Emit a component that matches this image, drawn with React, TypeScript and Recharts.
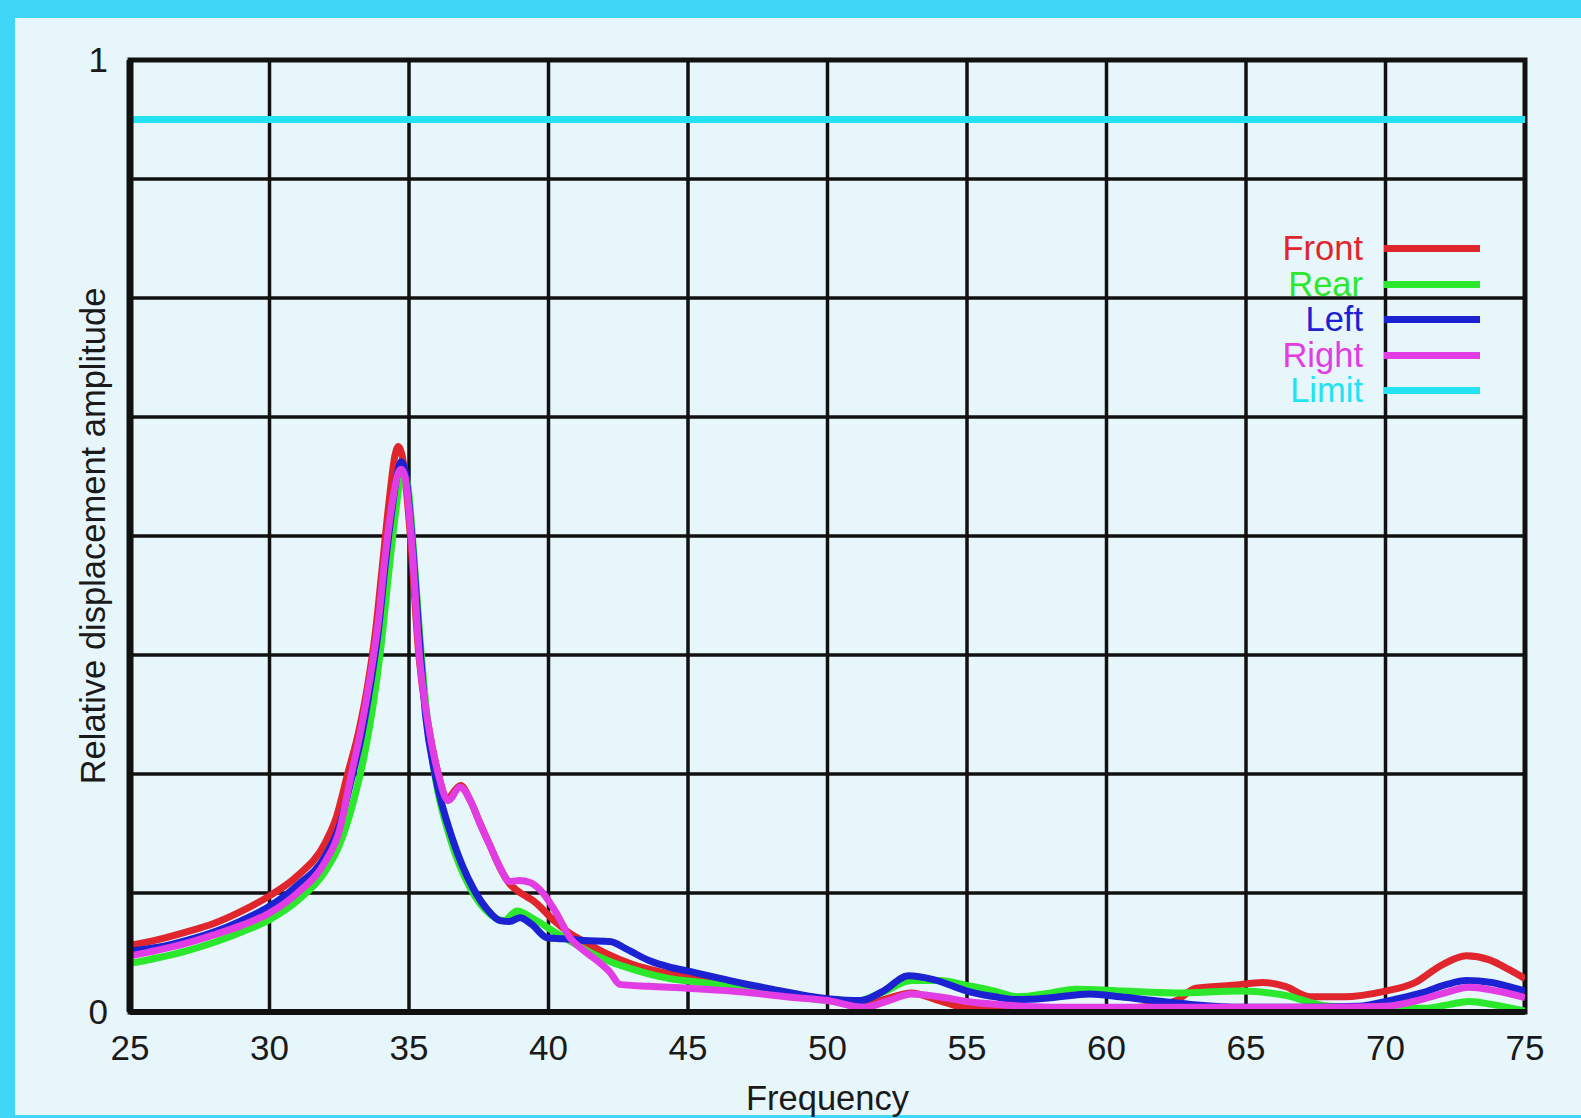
import React from 'react';
import { LineChart, Line, XAxis, YAxis, CartesianGrid, Legend, ReferenceArea } from 'recharts';

// axis ticks
const xTicks = [25, 30, 35, 40, 45, 50, 55, 60, 65, 70, 75];
const yTicks = [0, 0.125, 0.25, 0.375, 0.5, 0.625, 0.75, 0.875, 1];

// Front (red)
const frontFreq = [25, 26, 27, 28, 29, 30, 31, 32, 32.4, 32.8, 33.2, 33.5, 33.8, 34.05, 34.3, 34.5, 34.62, 34.75, 35.05, 35.35, 35.7, 36.05, 36.35, 36.85, 37.2, 37.55, 37.9, 38.25, 38.6, 39.0, 39.45, 40.2, 40.8, 41.4, 42.1, 43.0, 44.35, 45.5, 47, 48.5, 50, 51, 52, 53, 54, 55, 56.5, 58, 60, 61.5, 62.5, 63.2, 64.5, 65.6, 66.4, 67.3, 68.5, 70, 71, 72, 72.9, 73.7, 74.4, 75];
const frontAmp = [0.07, 0.076, 0.084, 0.093, 0.106, 0.122, 0.143, 0.178, 0.205, 0.25, 0.295, 0.34, 0.4, 0.47, 0.54, 0.585, 0.594, 0.585, 0.5, 0.375, 0.3, 0.25, 0.224, 0.238, 0.222, 0.198, 0.175, 0.152, 0.135, 0.125, 0.117, 0.096, 0.082, 0.072, 0.061, 0.05, 0.04, 0.034, 0.027, 0.02, 0.013, 0.008, 0.013, 0.02, 0.012, 0.004, 0.002, 0.002, 0.003, 0.006, 0.012, 0.025, 0.028, 0.031, 0.027, 0.016, 0.016, 0.022, 0.03, 0.049, 0.059, 0.055, 0.045, 0.035];

// Rear (green)
const rearFreq = [25, 26, 27, 28, 29, 30, 31, 32, 32.5, 33, 33.4, 33.7, 34.0, 34.25, 34.5, 34.7, 34.82, 34.95, 35.15, 35.4, 35.65, 35.95, 36.5, 37.2, 37.9, 38.4, 38.87, 39.4, 40.16, 40.8, 41.4, 42.2, 43.0, 44.35, 45.5, 47, 48.5, 50, 51, 52, 53, 54, 55, 56, 56.8, 58, 58.9, 60.6, 62.5, 64.8, 66.5, 67.3, 68, 70, 71.5, 72.3, 73, 73.8, 74.5, 75];
const rearAmp = [0.051, 0.057, 0.064, 0.073, 0.084, 0.097, 0.117, 0.148, 0.175, 0.22, 0.27, 0.32, 0.385, 0.455, 0.52, 0.56, 0.565, 0.555, 0.49, 0.39, 0.31, 0.245, 0.18, 0.13, 0.103, 0.096, 0.106, 0.099, 0.085, 0.074, 0.064, 0.053, 0.045, 0.035, 0.031, 0.025, 0.018, 0.012, 0.011, 0.021, 0.033, 0.033, 0.028, 0.022, 0.016, 0.02, 0.024, 0.022, 0.02, 0.022, 0.017, 0.01, 0.006, 0.004, 0.004, 0.008, 0.011, 0.008, 0.004, 0.001];

// Left (blue)
const leftFreq = [25, 26, 27, 28, 29, 30, 31, 32, 32.5, 32.9, 33.3, 33.6, 33.9, 34.15, 34.4, 34.6, 34.72, 34.85, 35.1, 35.35, 35.6, 35.93, 36.58, 37.3, 37.8, 38.26, 38.6, 38.98, 39.4, 39.95, 40.5, 41.3, 42.2, 42.8, 43.6, 44.35, 45, 46.5, 48, 50, 51.2, 52, 52.9, 53.8, 55, 56, 56.8, 58, 59.4, 60.5, 61.7, 63, 65, 67, 69, 70.3, 71.3, 72.2, 72.9, 73.8, 74.5, 75];
const leftAmp = [0.064, 0.068, 0.075, 0.084, 0.096, 0.111, 0.133, 0.164, 0.195, 0.24, 0.29, 0.34, 0.4, 0.47, 0.53, 0.568, 0.578, 0.57, 0.5, 0.4, 0.31, 0.25, 0.18, 0.13, 0.108, 0.096, 0.095, 0.099, 0.092, 0.078, 0.077, 0.075, 0.074, 0.066, 0.054, 0.047, 0.043, 0.033, 0.024, 0.014, 0.012, 0.022, 0.038, 0.034, 0.022, 0.016, 0.013, 0.015, 0.019, 0.016, 0.012, 0.008, 0.005, 0.005, 0.006, 0.013, 0.02, 0.029, 0.033, 0.031, 0.026, 0.022];

// Right (magenta)
const rightFreq = [25, 26, 27, 28, 29, 30, 31, 32, 32.5, 32.9, 33.3, 33.6, 33.9, 34.15, 34.4, 34.6, 34.72, 34.85, 35.08, 35.37, 35.7, 36.05, 36.4, 36.83, 37.2, 37.54, 37.9, 38.26, 38.6, 38.95, 39.34, 39.8, 40.3, 40.77, 41.2, 41.74, 42.2, 42.56, 43.6, 45, 47, 48.5, 50, 51.3, 52.2, 53, 54, 55, 56.5, 58, 60, 63, 66, 68, 70, 71, 72, 73, 74, 75];
const rightAmp = [0.059, 0.065, 0.072, 0.081, 0.091, 0.104, 0.125, 0.158, 0.19, 0.245, 0.3, 0.35, 0.41, 0.48, 0.535, 0.565, 0.57, 0.563, 0.5, 0.375, 0.3, 0.25, 0.222, 0.236, 0.222, 0.198, 0.175, 0.152, 0.137, 0.138, 0.136, 0.125, 0.103, 0.078, 0.066, 0.054, 0.042, 0.029, 0.027, 0.025, 0.021, 0.016, 0.012, 0.005, 0.012, 0.019, 0.016, 0.011, 0.007, 0.005, 0.005, 0.005, 0.005, 0.005, 0.006, 0.011, 0.019, 0.026, 0.022, 0.015];

// Limit (cyan)
const limitFreq = [25, 75];
const limitAmp = [0.9375, 0.9375];

const toPoints = (f: number[], a: number[]) => f.map((freq, i) => ({ freq, amp: a[i] }));

const series = [
  { name: 'Front', color: '#e0262c', data: toPoints(frontFreq, frontAmp) },
  { name: 'Rear', color: '#2ce82c', data: toPoints(rearFreq, rearAmp) },
  { name: 'Left', color: '#1c22d2', data: toPoints(leftFreq, leftAmp) },
  { name: 'Right', color: '#e23ce4', data: toPoints(rightFreq, rightAmp) },
  { name: 'Limit', color: '#24e2f2', data: toPoints(limitFreq, limitAmp) },
];

const FONT = '"Liberation Sans", Arial, Helvetica, sans-serif';

const LegendBox = (props: any) => {
  const order = series.map((s) => s.name);
  const items = [...(props.payload || [])].sort((a: any, b: any) => order.indexOf(a.value) - order.indexOf(b.value));
  return (
    <div style={{ fontFamily: FONT, fontSize: 34.5 }}>
      {items.map((p: any) => (
        <div key={p.value} style={{ display: 'flex', alignItems: 'center', justifyContent: 'flex-end', height: 35.5 }}>
          <span style={{ color: p.color }}>{p.value}</span>
          <span style={{ display: 'inline-block', width: 96, height: 7, background: p.color, marginLeft: 21 }} />
        </div>
      ))}
    </div>
  );
};

const YTitle = (props: any) => {
  const cy = props.viewBox.y + props.viewBox.height / 2;
  const cx = 93;
  return (
    <text x={cx} y={cy} transform={`rotate(-90 ${cx} ${cy})`} textAnchor="middle" dominantBaseline="central"
      fill="#1a1a1a" fontSize={34.5} fontFamily={FONT}>
      Relative displacement amplitude
    </text>
  );
};

export default function App() {
  return (
    <div style={{ position: 'absolute', left: 0, top: 0, width: 1581, height: 1118, background: '#3fd6f7' }}>
      <div style={{ position: 'absolute', left: 15, top: 18, width: 1566, height: 1097, background: '#e6f6fb' }} />
      <div style={{ position: 'absolute', left: 0, top: 0 }}>
        <LineChart width={1581} height={1118} margin={{ top: 60, right: 56, left: 0, bottom: 0 }}>
          <CartesianGrid stroke="#111" strokeWidth={3.5} />
          <XAxis
            dataKey="freq"
            type="number"
            domain={[25, 75]}
            ticks={xTicks}
            allowDataOverflow
            height={106}
            tickLine={false}
            tickSize={6}
            tickMargin={17}
            axisLine={{ stroke: '#111', strokeWidth: 6 }}
            tick={{ fill: '#1a1a1a', fontSize: 35, fontFamily: FONT }}
            label={{ value: 'Frequency', position: 'insideBottom', offset: 8, fill: '#1a1a1a', fontSize: 34.5, fontFamily: FONT }}
          />
          <YAxis
            dataKey="amp"
            type="number"
            domain={[0, 1]}
            ticks={yTicks}
            allowDataOverflow
            width={130}
            tickLine={false}
            tickSize={6}
            tickMargin={16}
            axisLine={{ stroke: '#111', strokeWidth: 7 }}
            tickFormatter={(v: number) => (v === 0 || v === 1 ? String(v) : '')}
            tick={{ fill: '#1a1a1a', fontSize: 35, fontFamily: FONT }}
            label={<YTitle />}
          />
          <ReferenceArea x1={25} x2={75} y1={0} y2={1} fill="none" stroke="#111" strokeWidth={5} ifOverflow="visible" />
          {series.map((s) => (
            <Line
              key={s.name}
              data={s.data}
              dataKey="amp"
              name={s.name}
              type="monotone"
              stroke={s.color}
              strokeWidth={7}
              dot={false}
              activeDot={false}
              isAnimationActive={false}
            />
          ))}
          <Legend
            layout="vertical"
            align="center"
            verticalAlign="middle"
            content={<LegendBox />}
            wrapperStyle={{ position: 'absolute', top: 231, left: 'auto', right: 101, width: 'auto', bottom: 'auto' }}
          />
        </LineChart>
      </div>
    </div>
  );
}
